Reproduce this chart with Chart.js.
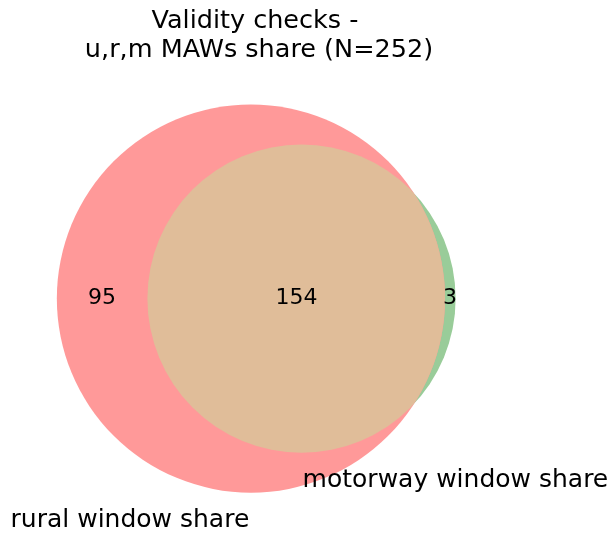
<!DOCTYPE html>
<html>
<head>
  <title>Validity checks - u,r,m MAWs share</title>
  <script src="https://cdn.jsdelivr.net/npm/chart.js@4/dist/chart.umd.min.js"></script>
  <style>
    body { margin: 0; background: #fff; }
  </style>
</head>
<body>
  <canvas id="vennChart" width="614" height="536"></canvas>

  <script>
    // set names and region counts (only rural, both, only motorway)
    var setNames = ["rural window share", "motorway window share"];
    var regionCounts = [95, 154, 3];
    var titleLines = ["Validity checks - ", "u,r,m MAWs share (N=252)"];

    // circle areas follow the set totals, centre distance
    var ruralTotal = regionCounts[0] + regionCounts[1];
    var motorTotal = regionCounts[1] + regionCounts[2];
    var ruralRadius = Math.sqrt(ruralTotal / Math.PI);
    var motorRadius = Math.sqrt(motorTotal / Math.PI);
    var centerGap = 2.32;

    // where the texts sit, in the same units as the circles
    var countPos = [[-6.83, 0], [2.09, 0], [9.13, 0]];
    var setLabelPos = [[-5.55, -10.22], [9.38, -8.38]];

    var FONT = "DejaVu Sans";

    var vennPlugin = {
      id: "venn",
      beforeDatasetDraw: function(chart, args) {
        // the overlap is the motorway circle clipped to the rural circle
        if (args.index !== 0) return;
        var rural = chart.getDatasetMeta(1).data[0];
        var ctx = chart.ctx;
        ctx.save();
        ctx.beginPath();
        ctx.arc(rural.x, rural.y, rural.options.radius, 0, Math.PI * 2);
        ctx.clip();
      },
      afterDatasetDraw: function(chart, args) {
        if (args.index !== 0) return;
        chart.ctx.restore();
      },
      afterDraw: function(chart) {
        var ctx = chart.ctx;
        var sx = chart.scales.x, sy = chart.scales.y;
        ctx.save();
        ctx.fillStyle = "#000";
        ctx.textAlign = "center";
        ctx.textBaseline = "middle";
        ctx.font = "22px '" + FONT + "'";
        regionCounts.forEach(function(v, i) {
          ctx.fillText(String(v), sx.getPixelForValue(countPos[i][0]), sy.getPixelForValue(countPos[i][1]));
        });
        ctx.font = "25px '" + FONT + "'";
        setNames.forEach(function(name, i) {
          ctx.fillText(name, sx.getPixelForValue(setLabelPos[i][0]), sy.getPixelForValue(setLabelPos[i][1]));
        });
        ctx.restore();
      }
    };

    var ctx = document.getElementById("vennChart").getContext("2d");
    var chart = new Chart(ctx, {
      type: "bubble",
      data: {
        datasets: [
          {
            label: "both",
            data: [{ x: centerGap, y: 0, size: motorRadius, r: 0 }],
            backgroundColor: "#e0bd99"
          },
          {
            label: setNames[0],
            data: [{ x: 0, y: 0, size: ruralRadius, r: 0 }],
            backgroundColor: "#ff9999"
          },
          {
            label: setNames[1],
            data: [{ x: centerGap, y: 0, size: motorRadius, r: 0 }],
            backgroundColor: "#99cc99"
          }
        ]
      },
      options: {
        responsive: false,
        animation: false,
        events: [],
        layout: { autoPadding: false, padding: { right: 96 } },
        elements: {
          point: { borderWidth: 0 }
        },
        scales: {
          x: { type: "linear", display: false, min: -11.51, max: 12.25 },
          y: { type: "linear", display: false, min: -10.92, max: 10.32 }
        },
        plugins: {
          legend: { display: false },
          tooltip: { enabled: false },
          title: {
            display: true,
            text: titleLines,
            color: "#000",
            font: { family: FONT, size: 25.5, weight: "normal", lineHeight: 1.14 },
            padding: { top: 7, bottom: 9 }
          }
        }
      },
      plugins: [vennPlugin]
    });

    // bubble radii are in pixels: turn the set sizes into pixels with the x scale
    var xs = chart.scales.x;
    chart.data.datasets.forEach(function(ds) {
      ds.data.forEach(function(p) {
        p.r = xs.getPixelForValue(p.size) - xs.getPixelForValue(0);
      });
    });
    chart.update();
  </script>
</body>
</html>
